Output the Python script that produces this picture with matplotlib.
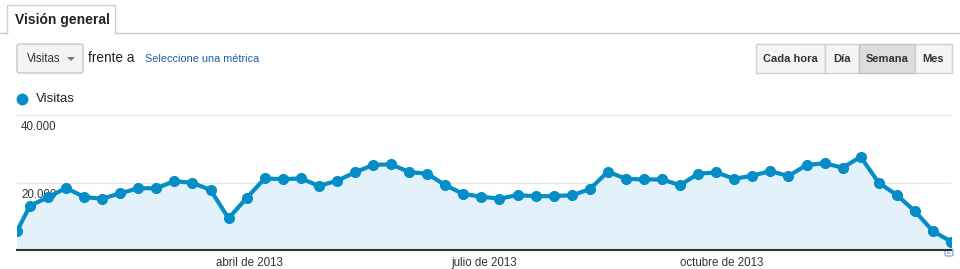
import datetime as dt
import matplotlib
matplotlib.use("Agg")
import matplotlib.pyplot as plt
import matplotlib.dates as mdates
from matplotlib.patches import Rectangle, FancyBboxPatch, Polygon

plt.rcParams['font.family'] = ['Liberation Sans', 'DejaVu Sans']

# weekly visits, 2013 (first point is the partial week starting Tue Jan 1)
start_date = dt.date(2013, 1, 1)
first_sunday = dt.date(2013, 1, 6)
visits = [5600, 13100, 15600, 18400, 15700, 15200, 16800, 18300, 18300, 20400,
          19900, 17800, 9400, 15400, 21200, 21000, 21200, 19000, 20500, 23000,
          25200, 25400, 23100, 22600, 19200, 16600, 15800, 15200, 16300, 15900,
          16000, 16200, 18000, 23200, 21100, 20900, 20900, 19200, 22600, 23000,
          21100, 22000, 23400, 21900, 25200, 25700, 24400, 27600, 19900, 16300,
          11500, 5600, 2500]
dates = [start_date] + [first_sunday + dt.timedelta(weeks=k) for k in range(len(visits) - 1)]

month_ticks = [dt.date(2013, 4, 1), dt.date(2013, 7, 1), dt.date(2013, 10, 1)]
month_labels = ["abril de 2013", "julio de 2013", "octubre de 2013"]
y_ticks = [20000, 40000]
y_labels = ["20.000", "40.000"]

blue = "#058dc7"
W, H = 960, 269
fig = plt.figure(figsize=(W / 100, H / 100), dpi=100)

# ---- page chrome, in pixel coordinates ----
ui = fig.add_axes([0, 0, 1, 1])
ui.set_xlim(0, W)
ui.set_ylim(H, 0)
ui.axis("off")

# tab strip: line broken under the open tab
ui.plot([0, 7], [33, 33], color="#c8c8c8", lw=1)
ui.plot([115, W], [33, 33], color="#c8c8c8", lw=1)
ui.plot([7, 7, 115, 115], [33, 5, 5, 33], color="#d0d0d0", lw=1)
ui.text(15, 20, "Visión general", fontsize=10, fontweight="bold", color="#222222", va="center")

ui.add_patch(FancyBboxPatch((17, 44), 66, 29, boxstyle="round,pad=0,rounding_size=2",
                            facecolor="#f4f4f4", edgecolor="#c6c6c6", lw=1))
ui.text(27, 59, "Visitas", fontsize=8.3, color="#333333", va="center")
ui.add_patch(Polygon([[67, 57], [75, 57], [71, 61]], closed=True, facecolor="#777777", edgecolor="none"))
ui.text(88, 58, "frente a", fontsize=9.8, color="#222222", va="center")
ui.text(145, 59, "Seleccione una métrica", fontsize=7.8, color="#1a5f9e", va="center")

buttons = [("Cada hora", 756, 825), ("Día", 825, 859), ("Semana", 859, 915), ("Mes", 915, 952)]
for label, x0, x1 in buttons:
    pressed = label == "Semana"
    ui.add_patch(Rectangle((x0, 44), x1 - x0, 29,
                           facecolor="#dcdcdc" if pressed else "#f5f5f5",
                           edgecolor="#c0c0c0" if pressed else "#d0d0d0", lw=1))
    ui.text((x0 + x1) / 2, 59, label, fontsize=8, fontweight="bold", color="#333333",
            ha="center", va="center")

ui.plot([22], [98.5], "o", color=blue, markersize=7.5)
ui.text(36, 98.5, "Visitas", fontsize=9.5, color="#222222", va="center")

# ---- chart ----
ax = fig.add_axes([17 / W, (H - 250) / H, (951 - 17) / W, (250 - 115) / H])
ax.set_facecolor("none")
x = mdates.date2num(dates)
ax.fill_between(x, visits, 0, color="#e3f2fa", zorder=1)
ax.plot(x, visits, color=blue, lw=3, marker="o", markersize=7, zorder=3,
        solid_joinstyle="round")
ax.set_xlim(x[0], x[-1])
ax.set_ylim(0, 40000)

for v, lab in zip(y_ticks, y_labels):
    ax.axhline(v, color="#e6e6e6", lw=1, zorder=0)
    ax.annotate(lab, xy=(0, v), xycoords=("axes fraction", "data"), xytext=(3, -9),
                textcoords="offset points", fontsize=8.3, color="#333333", va="center",
                zorder=2)

for side in ["top", "right", "left"]:
    ax.spines[side].set_visible(False)
ax.spines["bottom"].set_color("#333333")
ax.spines["bottom"].set_linewidth(1.5)
ax.spines["bottom"].set_zorder(4)
ax.set_yticks([])
ax.set_xticks(mdates.date2num(month_ticks))
ax.set_xticklabels(month_labels, fontsize=8.3, color="#333333")
ax.tick_params(axis="x", length=0, pad=5)

# small annotation marker at the end of the axis
ui.add_patch(FancyBboxPatch((945, 249), 8, 7, boxstyle="round,pad=0,rounding_size=1.5",
                            facecolor="white", edgecolor="#6a9ec9", lw=0.8))
ui.text(949, 252.5, "E", fontsize=4.5, color="#4a7fb0", ha="center", va="center")

fig.savefig("out.png", dpi=100)
